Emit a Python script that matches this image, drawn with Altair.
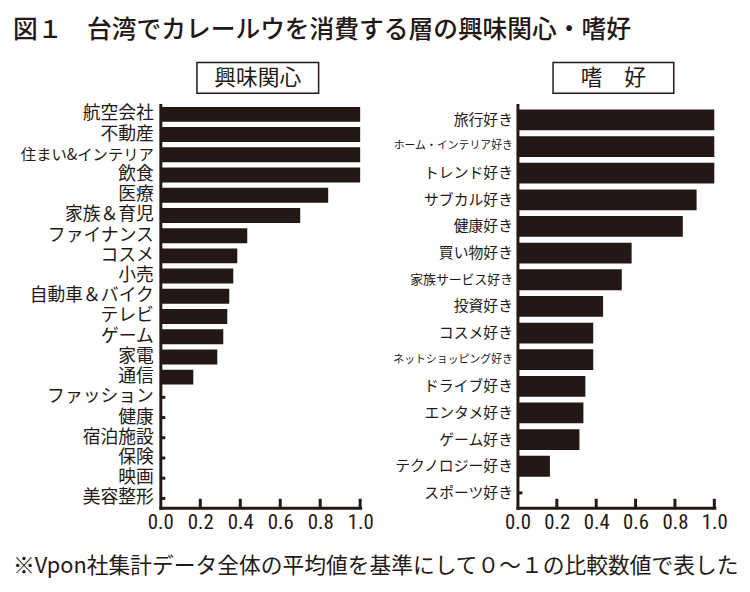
import altair as alt
import pandas as pd

INK = "#231815"
JP = "Noto Sans CJK JP"
NUMFONT = "Liberation Sans Narrow, Roboto Condensed, Liberation Sans"

title_text = "図１　台湾でカレールウを消費する層の興味関心・嗜好"
note_text = "※Vpon社集計データ全体の平均値を基準にして０～１の比較数値で表した"
left_header = "興味関心"
right_header = "嗜　好"

interest_cats = ["航空会社", "不動産", "住まい&インテリア", "飲食", "医療", "家族＆育児",
                 "ファイナンス", "コスメ", "小売", "自動車＆バイク", "テレビ", "ゲーム",
                 "家電", "通信", "ファッション", "健康", "宿泊施設", "保険", "映画", "美容整形"]
interest_vals = [1.0, 1.0, 1.0, 1.0, 0.84, 0.70, 0.435, 0.385, 0.365, 0.345, 0.335, 0.315,
                 0.285, 0.165, 0, 0, 0, 0, 0, 0]

hobby_cats = ["旅行好き", "ホーム・インテリア好き", "トレンド好き", "サブカル好き", "健康好き",
              "買い物好き", "家族サービス好き", "投資好き", "コスメ好き", "ネットショッピング好き",
              "ドライブ好き", "エンタメ好き", "ゲーム好き", "テクノロジー好き", "スポーツ好き"]
hobby_vals = [1.0, 1.0, 1.0, 0.91, 0.84, 0.58, 0.53, 0.435, 0.385, 0.385, 0.345, 0.335,
              0.315, 0.165, 0]

x_ticks = [0.0, 0.2, 0.4, 0.6, 0.8, 1.0]

H = 407


def panel(cats, vals, width, pin, pout, label_expr, label_pad, box, header, header_size, extras):
    df = pd.DataFrame({"cat": cats, "val": vals})
    yenc = alt.Y("cat:N", sort=cats, title=None,
                 scale=alt.Scale(paddingInner=pin, paddingOuter=pout),
                 axis=alt.Axis(domain=True, domainColor=INK, domainWidth=3, domainCap="square",
                               ticks=False, labelColor=INK, labelFont=JP,
                               labelFontSize={"expr": label_expr}, labelPadding=label_pad,
                               labelLimit=400, grid=False))
    xscale = alt.Scale(domain=[0, 1], nice=False)
    xaxis = alt.Axis(values=x_ticks, format=".1f", domain=True, domainColor=INK,
                     domainWidth=3, domainCap="square", ticks=False,
                     labelColor=INK, labelFont=NUMFONT, labelFontSize=21,
                     labelPadding=4, labelFlush=False, labelOverlap=False,
                     grid=False)
    base = alt.Chart(df)
    stubs = base.mark_rule(color=INK, strokeWidth=3).encode(
        y=yenc, x=alt.value(0), x2=alt.value(5))
    bars = base.mark_bar(color=INK).encode(
        y=yenc,
        x=alt.X("val:Q", scale=xscale, title=None, axis=xaxis))
    tdf = pd.DataFrame({"val": x_ticks[1:]})
    tick_rules = alt.Chart(tdf).mark_rule(color=INK, strokeWidth=3).encode(
        x=alt.X("val:Q", scale=xscale, title=None, axis=xaxis),
        y=alt.value(H), y2=alt.value(H - 9))
    one = pd.DataFrame({"h": [header]})
    rect = alt.Chart(one).mark_rect(fillOpacity=0, stroke=INK, strokeWidth=1.5).encode(
        x=alt.value(box[0]), x2=alt.value(box[1]), y=alt.value(-43), y2=alt.value(-12))
    htext = alt.Chart(one).mark_text(font=JP, fontSize=header_size, color=INK,
                                     align="center", baseline="middle").encode(
        text="h:N", x=alt.value((box[0] + box[1]) / 2), y=alt.value(-27.5))
    layers = [stubs, bars, tick_rules, rect, htext] + extras
    return alt.layer(*layers).properties(width=width, height=H)


title_mark = alt.Chart(pd.DataFrame({"s": [title_text]})).mark_text(
    font=JP, fontSize=25, fontWeight=500, color=INK, align="left", baseline="middle").encode(
    text="s:N", x=alt.value(-149), y=alt.value(-75.5))
note_mark = alt.Chart(pd.DataFrame({"s": [note_text]})).mark_text(
    font=JP, fontSize=22, color=INK, align="left", baseline="middle").encode(
    text="s:N", x=alt.value(-149), y=alt.value(466))

left = panel(interest_cats, interest_vals, 202, 0.26, 0.09,
             "datum.label == '住まい&インテリア' ? 15.5 : 18", 7,
             (37, 160), left_header, 22, [title_mark, note_mark])
right = panel(hobby_cats, hobby_vals, 199, 0.22, 0.165,
              "datum.label == 'ホーム・インテリア好き' || datum.label == 'ネットショッピング好き' ? 11 : (datum.label == '家族サービス好き' ? 13 : 15)",
              5, (36, 158), right_header, 22, [])

chart = alt.hconcat(left, right, spacing=159, bounds="flush").properties(
    padding={"left": 5, "top": 7, "right": 2, "bottom": 5},
    background="white",
).configure_view(stroke=None)

chart.save("out.html", embed_options={"renderer": "svg", "actions": False})
